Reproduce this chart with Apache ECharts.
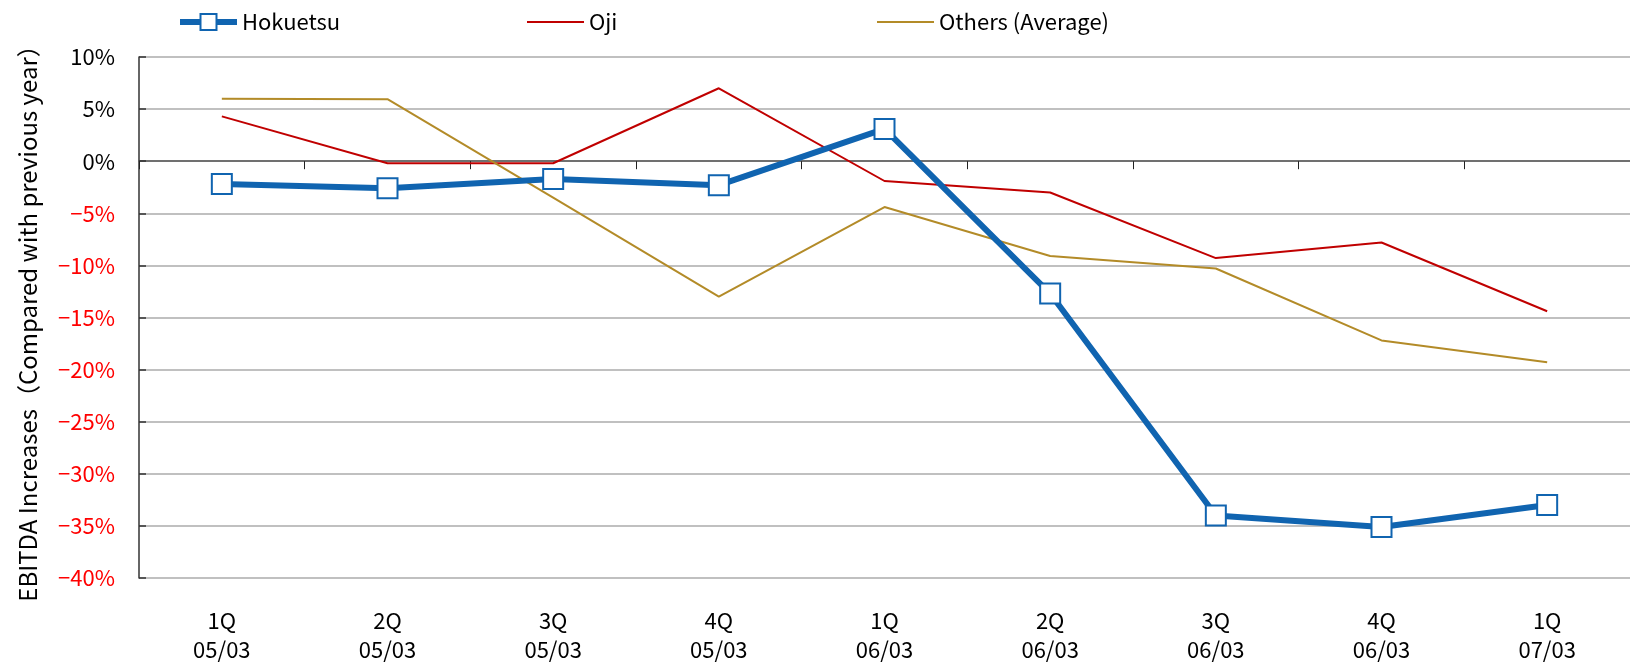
<!DOCTYPE html>
<html>
<head>
<meta charset="utf-8">
<script src="https://cdn.jsdelivr.net/npm/echarts@6/dist/echarts.min.js"></script>
<style>
  html, body { margin: 0; padding: 0; background: #fff; }
  #chart { width: 1630px; height: 664px; }
</style>
</head>
<body>
<div id="chart"></div>
<script>
// quarters, two lines per label
var quarters = ['1Q\n05/03', '2Q\n05/03', '3Q\n05/03', '4Q\n05/03', '1Q\n06/03', '2Q\n06/03', '3Q\n06/03', '4Q\n06/03', '1Q\n07/03'];

// EBITDA increase vs previous year, %
var hokuetsu = [-2.2, -2.6, -1.7, -2.3, 3.1, -12.7, -34.0, -35.1, -33.0];
var oji      = [4.3, -0.2, -0.2, 7.0, -1.9, -3.0, -9.3, -7.8, -14.4];
var others   = [6.0, 5.95, -3.5, -13.0, -4.4, -9.1, -10.3, -17.2, -19.3];

var FONT = '"Noto Sans CJK JP", "Noto Sans", sans-serif';

var chart = echarts.init(document.getElementById('chart'));

function legendAt(name, left, plain) {
  var lg = {
    data: [name],
    left: left,
    top: 6,
    itemWidth: 57,
    itemHeight: 20,
    itemGap: 0,
    textStyle: { fontFamily: FONT, fontSize: 22, color: '#000' }
  };
  if (plain) {
    // plain line icon, no marker
    lg.icon = 'rect';
    lg.itemHeight = 2;
  } else {
    lg.lineStyle = { width: 6 };
  }
  return lg;
}

var options = {
  animation: false,
  backgroundColor: '#fff',
  textStyle: { fontFamily: FONT },
  legend: [
    legendAt('Hokuetsu', 172, false),
    legendAt('Oji', 522, true),
    legendAt('Others (Average)', 872, true)
  ],
  grid: { left: 139, right: -6, top: 57, bottom: 85 },
  xAxis: [{
    type: 'category',
    data: quarters,
    boundaryGap: true,
    position: 'bottom',
    axisLine: { show: false, onZero: false },
    axisTick: { show: false },
    splitLine: { show: false },
    axisLabel: {
      margin: 28,
      fontFamily: FONT,
      fontSize: 22,
      lineHeight: 29,
      color: '#000'
    }
  }, {
    // the line through 0% with the category ticks
    type: 'category',
    data: quarters,
    boundaryGap: true,
    axisLine: { show: true, onZero: true, lineStyle: { color: '#555', width: 1.5 } },
    axisTick: { show: true, inside: true, length: 8, lineStyle: { color: '#222', width: 1 } },
    axisLabel: { show: false },
    splitLine: { show: false }
  }],
  yAxis: {
    type: 'value',
    min: -40,
    max: 10,
    interval: 5,
    name: 'EBITDA Increases（Compared with previous year）',
    nameLocation: 'middle',
    nameGap: 99,
    nameTextStyle: { fontFamily: FONT, fontSize: 24, color: '#000' },
    axisLine: { show: true, lineStyle: { color: '#333', width: 1.5 } },
    axisTick: { show: true, inside: true, length: 7, lineStyle: { color: '#333', width: 1.5 } },
    splitLine: { show: true, lineStyle: { color: '#c0c0c0', width: 2 } },
    axisLabel: {
      margin: 24,
      fontFamily: FONT,
      fontSize: 22,
      formatter: function (v) {
        return (v < 0 ? '\u2212' + (-v) : v) + '%';
      },
      color: function (v) {
        return Number(v) < 0 ? '#ff0000' : '#000';
      }
    }
  },
  series: [{
    name: 'Oji',
    type: 'line',
    data: oji,
    symbol: 'none',
    z: 3,
    lineStyle: { color: '#c00000', width: 2 },
    itemStyle: { color: '#c00000' }
  }, {
    name: 'Others (Average)',
    type: 'line',
    data: others,
    symbol: 'none',
    z: 3,
    lineStyle: { color: '#b38b28', width: 2 },
    itemStyle: { color: '#b38b28' }
  }, {
    name: 'Hokuetsu',
    type: 'line',
    data: hokuetsu,
    symbol: 'rect',
    symbolSize: 20,
    z: 5,
    lineStyle: { color: '#1064b0', width: 6 },
    itemStyle: { color: '#fff', borderColor: '#1064b0', borderWidth: 2 }
  }]
};

chart.setOption(options);
</script>
</body>
</html>
